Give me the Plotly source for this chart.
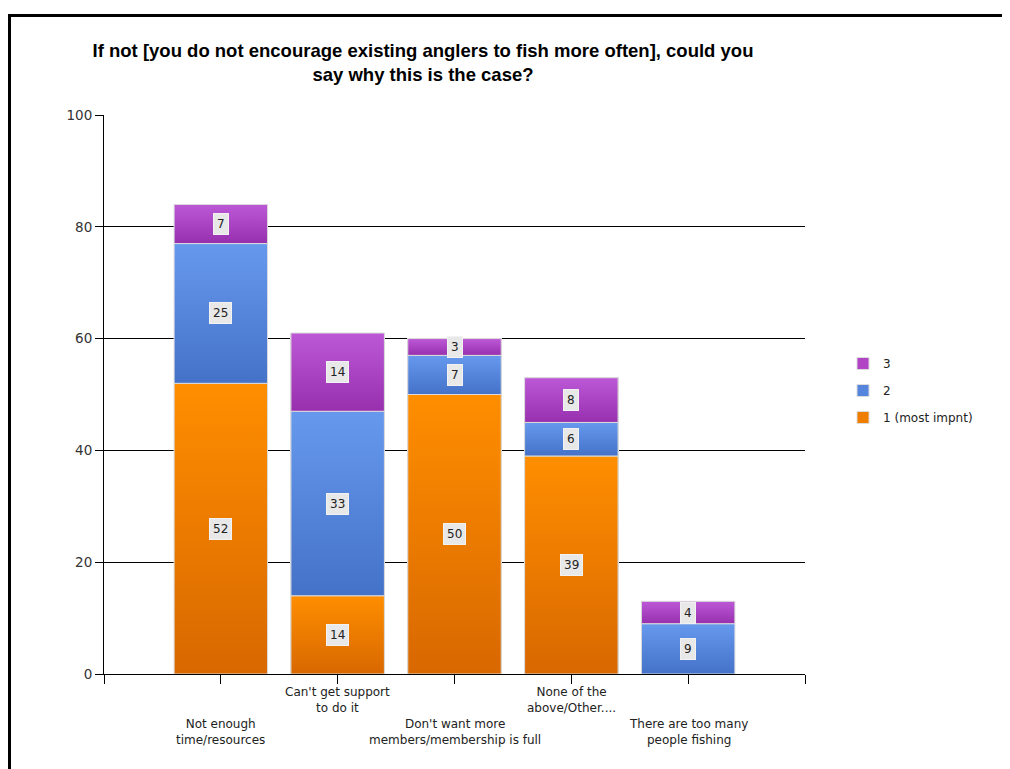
import plotly.graph_objects as go

categories = ["Not enough<br>time/resources", "Can't get support<br>to do it",
              "Don't want more<br>members/membership is full", "None of the<br>above/Other....",
              "There are too many<br>people fishing"]
series_names = ["1 (most impnt)", "2", "3"]
rank1 = [52, 14, 50, 39, 0]
rank2 = [25, 33, 7, 6, 9]
rank3 = [7, 14, 3, 8, 4]
y_ticks = [0, 20, 40, 60, 80, 100]

series_values = [rank1, rank2, rank3]
solid_colors = ["#EE7D00", "#5585DC", "#B044C4"]
grad_colors = [("#D86800", "#FF8E00"), ("#4472C8", "#6699EE"), ("#9830AE", "#BC58D6")]

# page body has an 8px margin; figure sized so it fits the 1010x769 window
W, H = 1002, 761
L, T = 96, 107
pw, ph = 701, 559
R, B = W - L - pw, H - T - ph
ybot = T + ph  # pixel y of the x axis in figure coords

xpos = list(range(1, len(categories) + 1))
bw = 0.8
font = "Liberation Sans, Arial, sans-serif"
font2 = "DejaVu Sans, Verdana, sans-serif"

fig = go.Figure()
n = len(series_names)
for k, (name, vals, col) in enumerate(zip(series_names, series_values, solid_colors)):
    fig.add_trace(go.Bar(x=xpos, y=vals, name=name, width=bw,
                         marker=dict(color=col, line=dict(color="#dcdcdc", width=1)),
                         legendgroup=name, legendrank=n - k, hoverinfo="skip"))

# gradient overlays per segment
base = [0] * len(categories)
annos = []
for si, (vals, (c0, c1)) in enumerate(zip(series_values, grad_colors)):
    for i, v in enumerate(vals):
        if v > 0:
            b0, b1 = base[i], base[i] + v
            x0, x1 = xpos[i] - bw / 2, xpos[i] + bw / 2
            fig.add_trace(go.Scatter(
                x=[x0, x1, x1, x0, x0], y=[b0, b0, b1, b1, b0],
                mode="lines", fill="toself",
                line=dict(color="#dcdcdc", width=1),
                fillgradient=dict(type="vertical", colorscale=[[0, c0], [1, c1]]),
                showlegend=False, hoverinfo="skip"))
            annos.append(dict(x=xpos[i], y=(b0 + b1) / 2, xref="x", yref="y",
                              text=str(v), showarrow=False,
                              font=dict(family=font2, size=12, color="#222"),
                              bgcolor="#e8e8e8", bordercolor="#f2f2f2", borderwidth=1,
                              borderpad=3))
        base[i] += v

# category labels, staggered
for i, cat in enumerate(categories):
    shift = -41 if i % 2 == 0 else -9
    annos.append(dict(x=xpos[i], y=0, xref="x", yref="paper", yanchor="top",
                      yshift=shift, text=cat, showarrow=False,
                      font=dict(family=font2, size=12, color="#222")))

fig.update_layout(
    width=W, height=H,
    margin=dict(l=L, r=R, t=T, b=B),
    paper_bgcolor="white", plot_bgcolor="white",
    barmode="stack",
    title=dict(text="If not [you do not encourage existing anglers to fish more often], could you<br>say why this is the case?",
               x=415 / W, xanchor="center", xref="container",
               y=1 - 49 / H, yanchor="top", yref="container",
               font=dict(family=font, size=18.5, color="black", weight="bold")),
    legend=dict(x=(835 - L) / pw, y=(ybot - 341) / ph, xanchor="left", yanchor="top",
                traceorder="grouped", tracegroupgap=8,
                font=dict(family=font2, size=12, color="#222")),
    annotations=annos,
    shapes=[dict(type="path", xref="paper", yref="paper",
                 path=f"M {(1.5 - L) / pw} {-0.4} L {(1.5 - L) / pw} {(ybot - 7.5) / ph} L {1.35} {(ybot - 7.5) / ph}",
                 line=dict(color="black", width=3), layer="above")],
    showlegend=True,
)
fig.update_xaxes(range=[0, 6], tickvals=list(range(0, 7)), showticklabels=False,
                 ticks="outside", ticklen=9, tickcolor="black", tickwidth=1,
                 showline=True, linecolor="black", linewidth=1, showgrid=False, zeroline=False)
fig.update_yaxes(range=[0, 100], tickvals=y_ticks, ticks="outside", ticklen=8,
                 tickcolor="black", showline=True, linecolor="black", linewidth=1,
                 showgrid=True, gridcolor="black", gridwidth=1, zeroline=False,
                 tickfont=dict(family=font2, size=13.5, color="#333"))

fig.write_html("out.html")
